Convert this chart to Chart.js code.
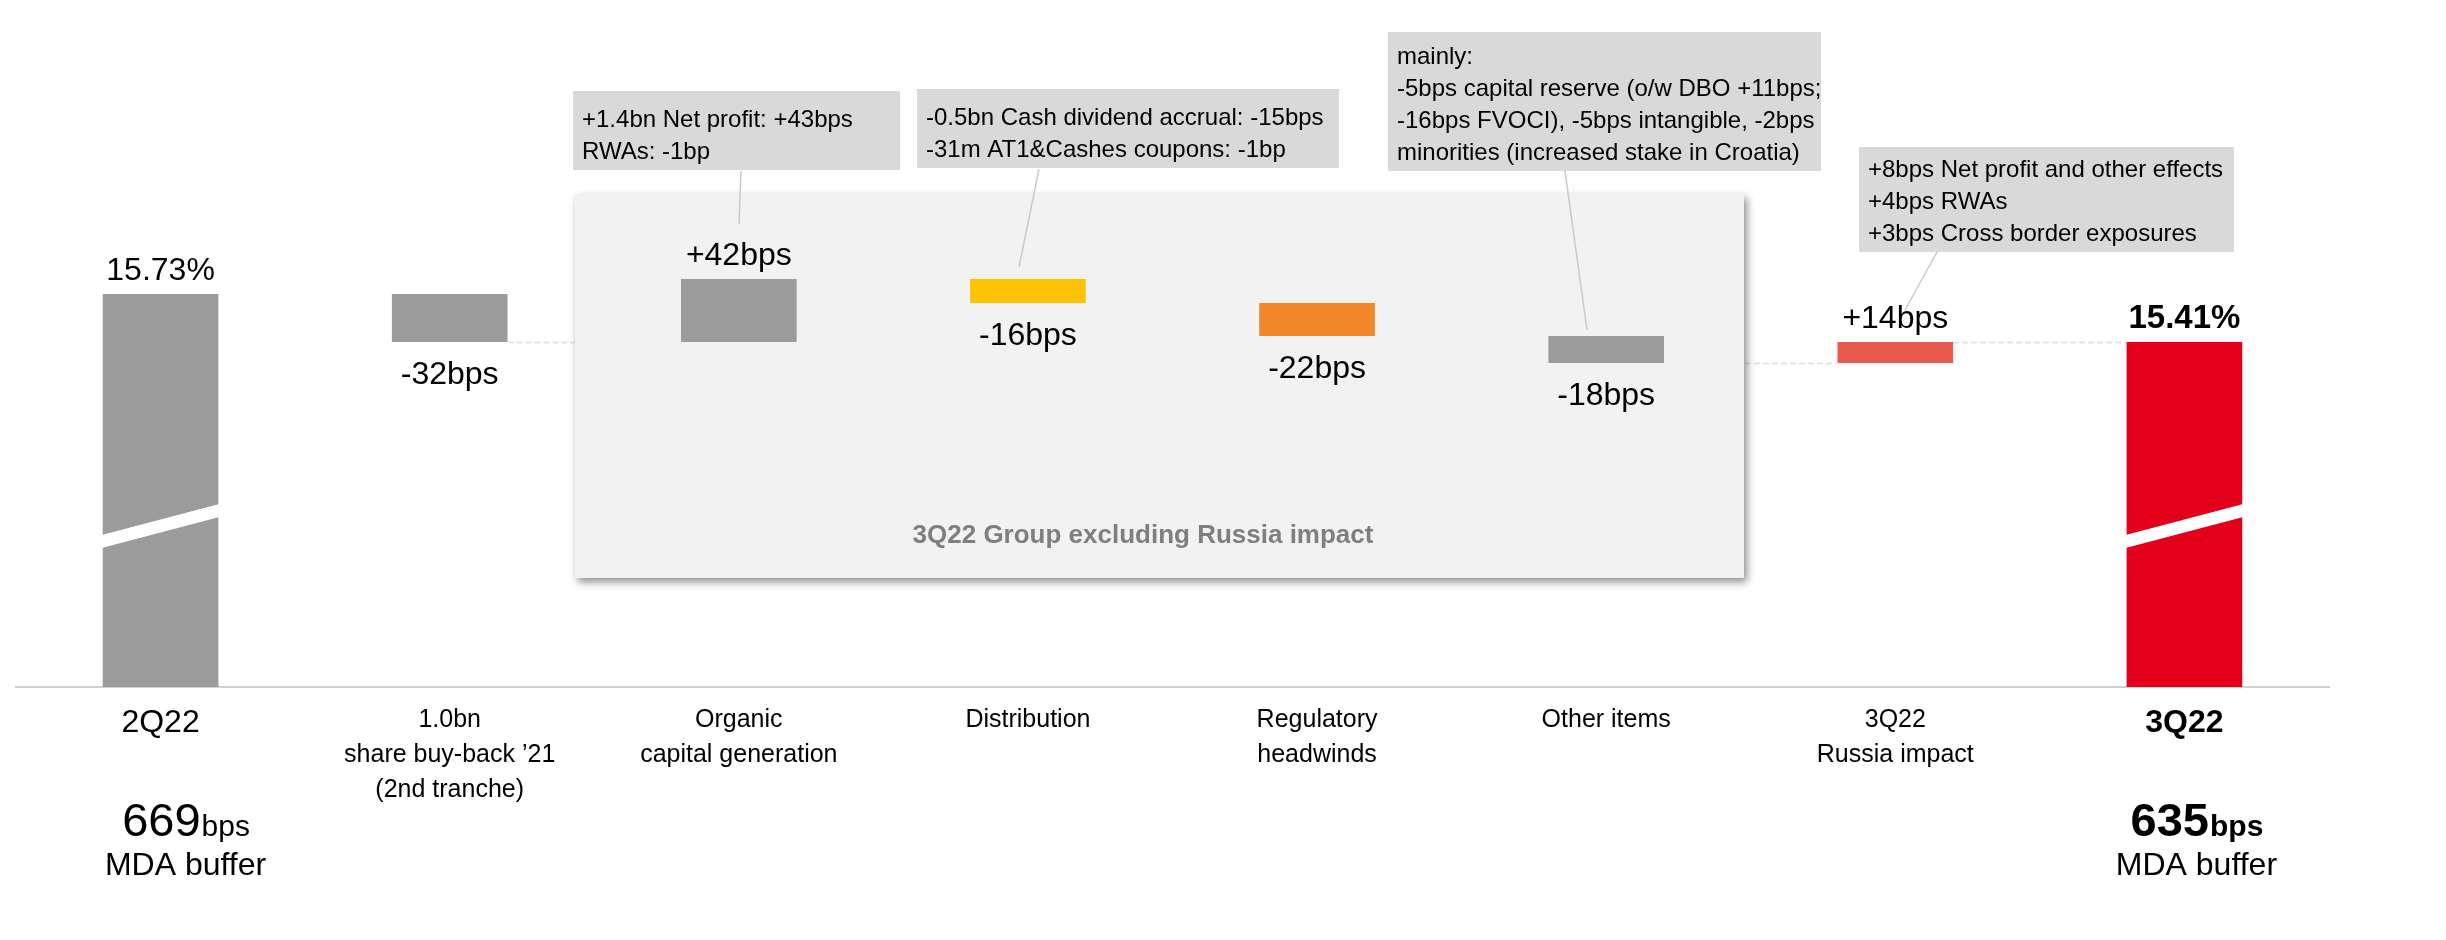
<!DOCTYPE html>
<html>
<head>
<meta charset="utf-8">
<title>CET1 ratio walk 2Q22 - 3Q22</title>
<script src="https://cdn.jsdelivr.net/npm/chart.js@4.4.0/dist/chart.umd.min.js"></script>
<style>
  html, body { margin: 0; padding: 0; background: #fff; }
  #wrap { width: 2446px; height: 940px; }
</style>
</head>
<body>
<div id="wrap"><canvas id="walkChart" width="2446" height="940"></canvas></div>
<script>
// x axis categories (multi-line)
const categories = [
  ['2Q22'],
  ['1.0bn', 'share buy-back ’21', '(2nd tranche)'],
  ['Organic', 'capital generation'],
  ['Distribution'],
  ['Regulatory', 'headwinds'],
  ['Other items'],
  ['3Q22', 'Russia impact'],
  ['3Q22']
];

// CET1 ratio, %
const startRatio = 15.73;
const endRatio = 15.41;

// movements between the two quarters, bps
const movementsBps = [-32, 42, -16, -22, -18, 14];

// MDA buffer under the totals, bps
const mdaBufferBps = [669, 635];

const barColors = ['#9b9b9b', '#9b9b9b', '#9b9b9b', '#fdc300', '#f4862a', '#9b9b9b', '#e95a4d', '#e2001a'];

// comment boxes: box = [x, y, w, h], leader = [x1, y1, x2, y2]
const notes = [
  { lines: ['+1.4bn Net profit: +43bps', 'RWAs: -1bp'],
    box: [573, 91, 327, 79], leader: [741, 171, 739, 224] },
  { lines: ['-0.5bn Cash dividend accrual: -15bps', '-31m AT1&Cashes coupons: -1bp'],
    box: [917, 89, 422, 79], leader: [1039, 169, 1019, 267] },
  { lines: ['mainly:', '-5bps capital reserve (o/w DBO +11bps;', '-16bps FVOCI), -5bps intangible, -2bps', 'minorities (increased stake in Croatia)'],
    box: [1388, 32, 433, 139], leader: [1565, 171, 1587, 330] },
  { lines: ['+8bps Net profit and other effects', '+4bps RWAs', '+3bps Cross border exposures'],
    box: [1859, 147, 375, 105], leader: [1937, 252, 1905, 310] }
];

const FONT = "'Liberation Sans', Arial, sans-serif";

// running level after each bar
const levels = [startRatio];
movementsBps.forEach(d => levels.push(+(levels[levels.length - 1] + d / 100).toFixed(2)));

const barData = [[0, startRatio]];
movementsBps.forEach((d, i) => barData.push([levels[i], levels[i + 1]]));
barData.push([0, endRatio]);

const walkDecor = {
  id: 'walkDecor',
  beforeDatasetsDraw(chart) {
    const { ctx, scales: { y } } = chart;
    const bars = chart.getDatasetMeta(0).data;

    // dashed connectors between the movement bars
    ctx.save();
    ctx.strokeStyle = '#e4e4e4';
    ctx.lineWidth = 2;
    ctx.setLineDash([6, 3]);
    for (let i = 1; i < bars.length - 1; i++) {
      const py = Math.round(y.getPixelForValue(levels[i])) + 0.5;
      ctx.beginPath();
      ctx.moveTo(bars[i].x + bars[i].width / 2, py);
      ctx.lineTo(bars[i + 1].x - bars[i + 1].width / 2, py);
      ctx.stroke();
    }
    ctx.restore();

    // shaded panel behind the group items
    ctx.save();
    ctx.shadowColor = 'rgba(0,0,0,0.45)';
    ctx.shadowBlur = 8;
    ctx.shadowOffsetX = 3;
    ctx.shadowOffsetY = 4;
    ctx.fillStyle = '#f2f2f2';
    ctx.fillRect(575, 194, 1169, 384);
    ctx.restore();

    ctx.save();
    ctx.fillStyle = '#7f7f7f';
    ctx.font = 'bold 26px ' + FONT;
    ctx.textAlign = 'center';
    ctx.textBaseline = 'alphabetic';
    ctx.fillText('3Q22 Group excluding Russia impact', 1143, 543);
    ctx.restore();
  },
  afterDatasetsDraw(chart) {
    const { ctx, chartArea, scales: { y } } = chart;
    const bars = chart.getDatasetMeta(0).data;
    const last = bars.length - 1;

    // axis break on the two totals
    ctx.save();
    ctx.fillStyle = '#ffffff';
    [0, last].forEach(i => {
      const b = bars[i];
      const l = b.x - b.width / 2, r = b.x + b.width / 2;
      const mid = chartArea.bottom - 161;
      ctx.beginPath();
      ctx.moveTo(l - 1, mid + 9);
      ctx.lineTo(r + 1, mid - 22);
      ctx.lineTo(r + 1, mid - 9);
      ctx.lineTo(l - 1, mid + 22);
      ctx.closePath();
      ctx.fill();
    });
    ctx.restore();

    // value labels
    ctx.save();
    ctx.fillStyle = '#000';
    ctx.textAlign = 'center';
    ctx.textBaseline = 'alphabetic';
    bars.forEach((b, i) => {
      const [lo, hi] = barData[i];
      const topPx = y.getPixelForValue(Math.max(lo, hi));
      const botPx = y.getPixelForValue(Math.min(lo, hi));
      if (i === 0 || i === last) {
        ctx.font = (i === last ? 'bold 33px ' : '32px ') + FONT;
        ctx.fillText(hi.toFixed(2) + '%', b.x, topPx - 14);
      } else {
        const d = movementsBps[i - 1];
        ctx.font = '32px ' + FONT;
        if (d > 0) ctx.fillText('+' + d + 'bps', b.x, topPx - 14);
        else ctx.fillText(d + 'bps', b.x, botPx + 42);
      }
    });
    ctx.restore();

    // comment boxes with leader lines
    ctx.save();
    ctx.strokeStyle = '#c9c9c9';
    ctx.lineWidth = 1.5;
    notes.forEach(n => {
      const [x1, y1, x2, y2] = n.leader;
      ctx.beginPath();
      ctx.moveTo(x1, y1);
      ctx.lineTo(x2, y2);
      ctx.stroke();
    });
    ctx.font = '24px ' + FONT;
    ctx.textAlign = 'left';
    ctx.textBaseline = 'alphabetic';
    notes.forEach(n => {
      const [bx, by, bw, bh] = n.box;
      ctx.fillStyle = '#d9d9d9';
      ctx.fillRect(bx, by, bw, bh);
      ctx.fillStyle = '#000';
      n.lines.forEach((t, k) => {
        ctx.fillText(t, bx + 9, by + bh - 11.5 - (n.lines.length - 1 - k) * 31.7);
      });
    });
    ctx.restore();

    // MDA buffer under the totals
    ctx.save();
    ctx.fillStyle = '#000';
    ctx.textBaseline = 'alphabetic';
    const shift = [25, 12];
    [0, last].forEach((i, k) => {
      const cx = bars[i].x + shift[k];
      const weight = k === 1 ? 'bold ' : '';
      ctx.font = weight + '47px ' + FONT;
      const num = String(mdaBufferBps[k]);
      const wNum = ctx.measureText(num).width;
      ctx.font = weight + '30px ' + FONT;
      const wUnit = ctx.measureText('bps').width;
      const x0 = cx - (wNum + wUnit) / 2;
      ctx.textAlign = 'left';
      ctx.font = weight + '47px ' + FONT;
      ctx.fillText(num, x0, 836);
      ctx.font = weight + '30px ' + FONT;
      ctx.fillText('bps', x0 + wNum + 1, 836);
      ctx.textAlign = 'center';
      ctx.font = '32px ' + FONT;
      ctx.fillText('MDA buffer', cx, 875);
    });
    ctx.restore();
  }
};

new Chart(document.getElementById('walkChart').getContext('2d'), {
  type: 'bar',
  data: {
    labels: categories,
    datasets: [{
      data: barData,
      backgroundColor: barColors,
      borderWidth: 0,
      categoryPercentage: 1,
      barPercentage: 0.4,
      clip: 0
    }]
  },
  options: {
    responsive: false,
    animation: false,
    devicePixelRatio: 1,
    layout: { padding: { left: 16, right: 117, top: 40, bottom: 0 } },
    plugins: { legend: { display: false }, tooltip: { enabled: false } },
    scales: {
      x: {
        grid: { display: false, drawTicks: false },
        border: { display: true, color: '#d0d0d0', width: 2 },
        ticks: {
          autoSkip: false,
          maxRotation: 0,
          padding: 16,
          color: '#000',
          font: c => {
            if (c.index === 0) return { family: FONT, size: 32, lineHeight: 1.25 };
            if (c.index === categories.length - 1) return { family: FONT, size: 32, weight: 'bold', lineHeight: 1.25 };
            return { family: FONT, size: 25, lineHeight: 1.4 };
          }
        },
        afterFit: s => { s.height = 253; }
      },
      y: {
        display: false,
        min: 13.11,
        max: 17.423
      }
    }
  },
  plugins: [walkDecor]
});
</script>
</body>
</html>
